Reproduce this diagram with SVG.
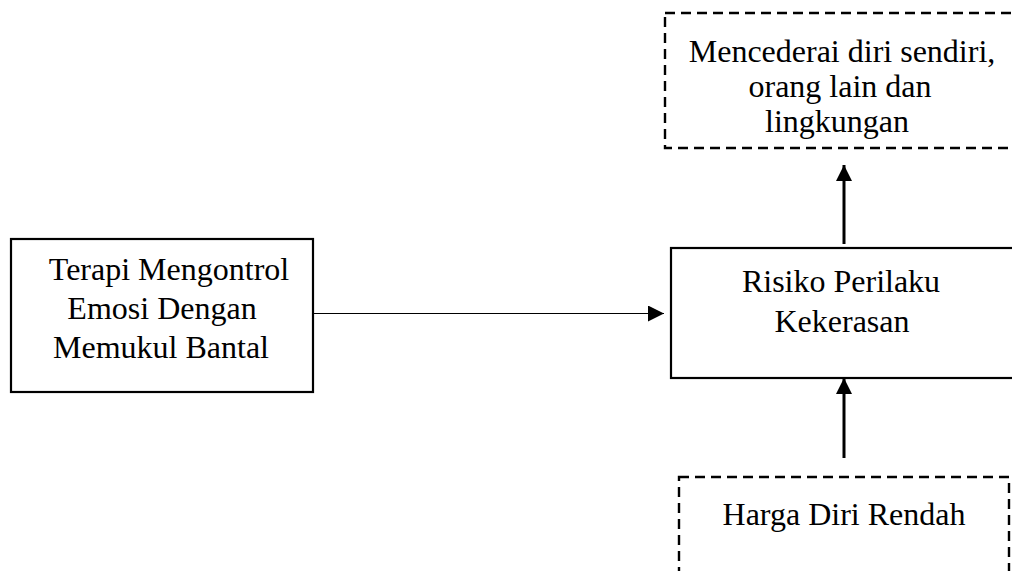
<svg xmlns="http://www.w3.org/2000/svg" width="1012" height="571" viewBox="0 0 1012 571">
<style>
.box{fill:#fff;stroke:#000;stroke-width:2.2}
.dash{fill:#fff;stroke:#000;stroke-width:2.4;stroke-dasharray:10 6}
.t{font-family:"Liberation Serif","Times New Roman",serif;font-size:32px;fill:#000;text-anchor:middle}
.c{stroke:#000;fill:none}
</style>
<defs>
<marker id="ah" markerWidth="16" markerHeight="16" viewBox="0 0 16 16" refX="16" refY="8" orient="auto" markerUnits="userSpaceOnUse">
<path d="M0,0 L16,8 L0,16 Z" fill="#000"/>
</marker>
</defs>
<rect width="1012" height="571" fill="#fff"/>
<g id="node-terapi">
<rect class="box" x="11" y="239" width="302" height="153"/>
<text class="t" x="169" y="280">Terapi Mengontrol</text>
<text class="t" x="162" y="319">Emosi Dengan</text>
<text class="t" x="161" y="358">Memukul Bantal</text>
</g>
<g id="node-risiko">
<rect class="box" x="671" y="248" width="360" height="130"/>
<text class="t" x="841" y="292">Risiko Perilaku</text>
<text class="t" x="842" y="332">Kekerasan</text>
</g>
<g id="node-mencederai">
<rect class="dash" x="665" y="13" width="360" height="135"/>
<text class="t" x="842" y="62">Mencederai diri sendiri,</text>
<text class="t" x="840" y="97">orang lain dan</text>
<text class="t" x="837" y="132">lingkungan</text>
</g>
<g id="node-harga">
<rect class="dash" x="679" y="477" width="330" height="120"/>
<text class="t" x="844" y="525">Harga Diri Rendah</text>
</g>
<g id="connectors">
<line class="c" x1="313" y1="313.5" x2="664" y2="313.5" stroke-width="1.2" marker-end="url(#ah)"/>
<line class="c" x1="844" y1="244" x2="844" y2="165" stroke-width="3" marker-end="url(#ah)"/>
<line class="c" x1="844" y1="458" x2="844" y2="378" stroke-width="3" marker-end="url(#ah)"/>
</g>
</svg>
